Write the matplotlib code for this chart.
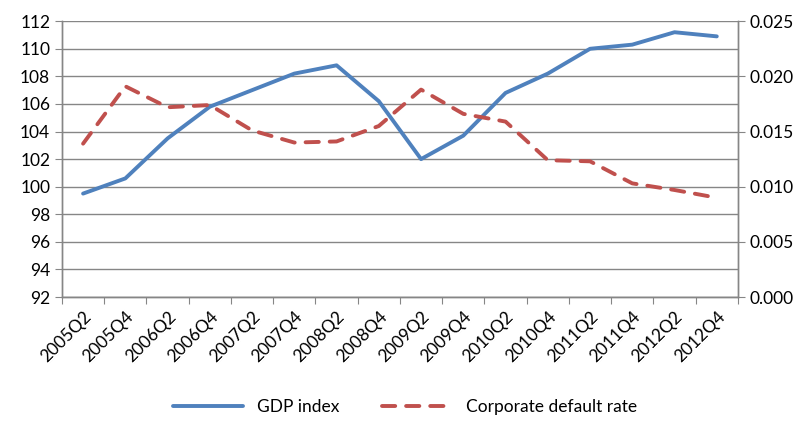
import matplotlib.pyplot as plt
import numpy as np

plt.rcParams['font.family'] = ['Lato', 'DejaVu Sans']

quarters = ['2005Q2', '2005Q4', '2006Q2', '2006Q4', '2007Q2', '2007Q4', '2008Q2', '2008Q4',
            '2009Q2', '2009Q4', '2010Q2', '2010Q4', '2011Q2', '2011Q4', '2012Q2', '2012Q4']
gdp_index = [99.5, 100.6, 103.5, 105.8, 107.0, 108.2, 108.8, 106.2,
             102.0, 103.7, 106.8, 108.2, 110.0, 110.3, 111.2, 110.9]
default_rate = [0.0139, 0.0191, 0.0172, 0.0174, 0.0151, 0.0140, 0.0141, 0.0155,
                0.0188, 0.0166, 0.0159, 0.0124, 0.0123, 0.0103, 0.0097, 0.0090]

blue = '#4F81BD'
red = '#C0504D'
grid_col = '#868686'

fig = plt.figure(figsize=(8.1, 4.24), dpi=100)
ax = fig.add_axes([0.0765, 0.2995, 0.8345, 0.6505])
ax2 = ax.twinx()

x = np.arange(len(quarters))
l1, = ax.plot(x, gdp_index, color=blue, linewidth=2.8, solid_capstyle='round', label='GDP index')
l2, = ax2.plot(x, default_rate, color=red, linewidth=2.8, dashes=(3.4, 2.8),
               dash_capstyle='round', label='Corporate default rate')

ax.set_xlim(-0.5, len(quarters) - 0.5)
ax.set_ylim(92, 112)
ax.set_yticks(np.arange(92, 113, 2))
ax2.set_ylim(0, 0.025)
ax2.set_yticks(np.arange(0, 0.0251, 0.005))
ax2.set_yticklabels([f'{v:.3f}' for v in np.arange(0, 0.0251, 0.005)])

ax.set_xticks(np.arange(-0.5, len(quarters)))
ax.set_xticklabels([])
ax.set_xticks(x, minor=True)
ax.set_xticklabels(quarters, minor=True, rotation=45, ha='right', rotation_mode='anchor', fontsize=12.5)
ax.tick_params(axis='x', which='minor', length=0, pad=8)
ax.tick_params(axis='x', which='major', length=5, color=grid_col, direction='out')
ax.tick_params(axis='y', length=5, color=grid_col, labelsize=12.5)
ax2.tick_params(axis='y', length=5, color=grid_col, labelsize=12.5)

ax.grid(axis='y', color=grid_col, linewidth=1)
ax.set_axisbelow(True)
for a in (ax, ax2):
    a.spines['top'].set_visible(False)
    for s in ('left', 'right', 'bottom'):
        a.spines[s].set_color(grid_col)
        a.spines[s].set_linewidth(1)

fig.legend([l1, l2], ['GDP index', 'Corporate default rate'], loc='lower center',
           bbox_to_anchor=(0.5, -0.015), ncol=2, frameon=False, fontsize=12.5,
           handlelength=4.0, columnspacing=2.5)

fig.savefig('out.png', dpi=100)
